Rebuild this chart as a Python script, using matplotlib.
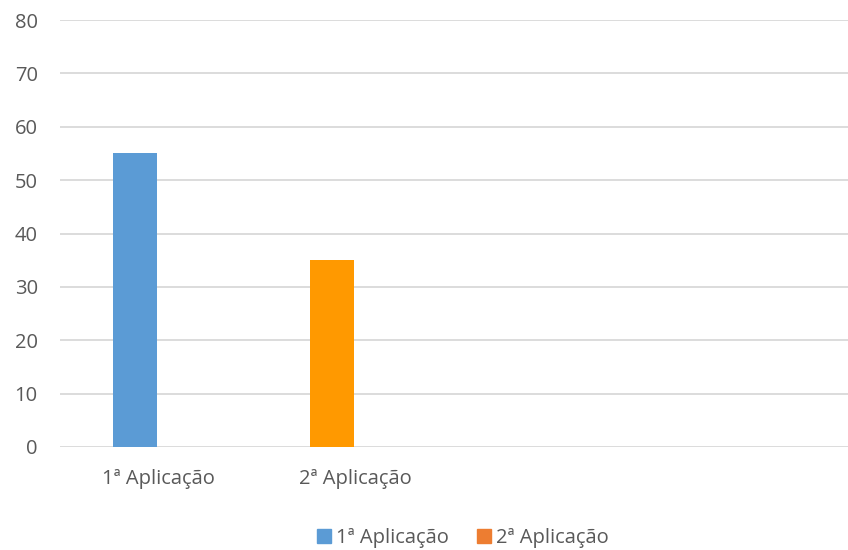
import matplotlib.pyplot as plt
from matplotlib.patches import Patch

plt.rcParams['font.family'] = ['Open Sans', 'DejaVu Sans']

# dados
categorias = ['1ª Aplicação', '2ª Aplicação', '', '']
serie1 = [55, None, None, None]
serie2 = [None, 35, None, None]
nomes = ['1ª Aplicação', '2ª Aplicação']
yticks = [0, 10, 20, 30, 40, 50, 60, 70, 80]

cor1 = '#5B9BD5'
cor2_barra = '#FF9900'
cor2_legenda = '#ED7D31'
cinza = '#595959'

fig = plt.figure(figsize=(8.48, 5.5), dpi=100)
ax = fig.add_axes([60 / 848, 103 / 550, 788 / 848, 427 / 550])

x = list(range(len(categorias)))
desloc = -0.12
larg = 0.223
for i, v in enumerate(serie1):
    if v is not None:
        ax.bar(x[i] + desloc, v, width=larg, color=cor1, zorder=3)
for i, v in enumerate(serie2):
    if v is not None:
        ax.bar(x[i] + desloc, v, width=larg, color=cor2_barra, zorder=3)

ax.set_xlim(-0.5, 3.5)
ax.set_ylim(0, 80)
ax.set_yticks(yticks)
ax.set_xticks(x)
ax.set_xticklabels(categorias)
ax.tick_params(axis='y', length=0, pad=16, labelsize=14.5, labelcolor=cinza)
ax.tick_params(axis='x', length=0, pad=16, labelsize=14.5, labelcolor=cinza)
ax.grid(axis='y', color='#D9D9D9', linewidth=1.3, zorder=0)
for s in ax.spines.values():
    s.set_visible(False)

handles = [Patch(color=cor1), Patch(color=cor2_legenda)]
fig.legend(handles, nomes, loc='center', bbox_to_anchor=(0.546, 0.022),
           ncol=2, frameon=False, fontsize=14.5, labelcolor=cinza,
           handlelength=0.7, handleheight=0.7, handletextpad=0.25,
           columnspacing=1.4)

fig.savefig('out.png', dpi=100)
